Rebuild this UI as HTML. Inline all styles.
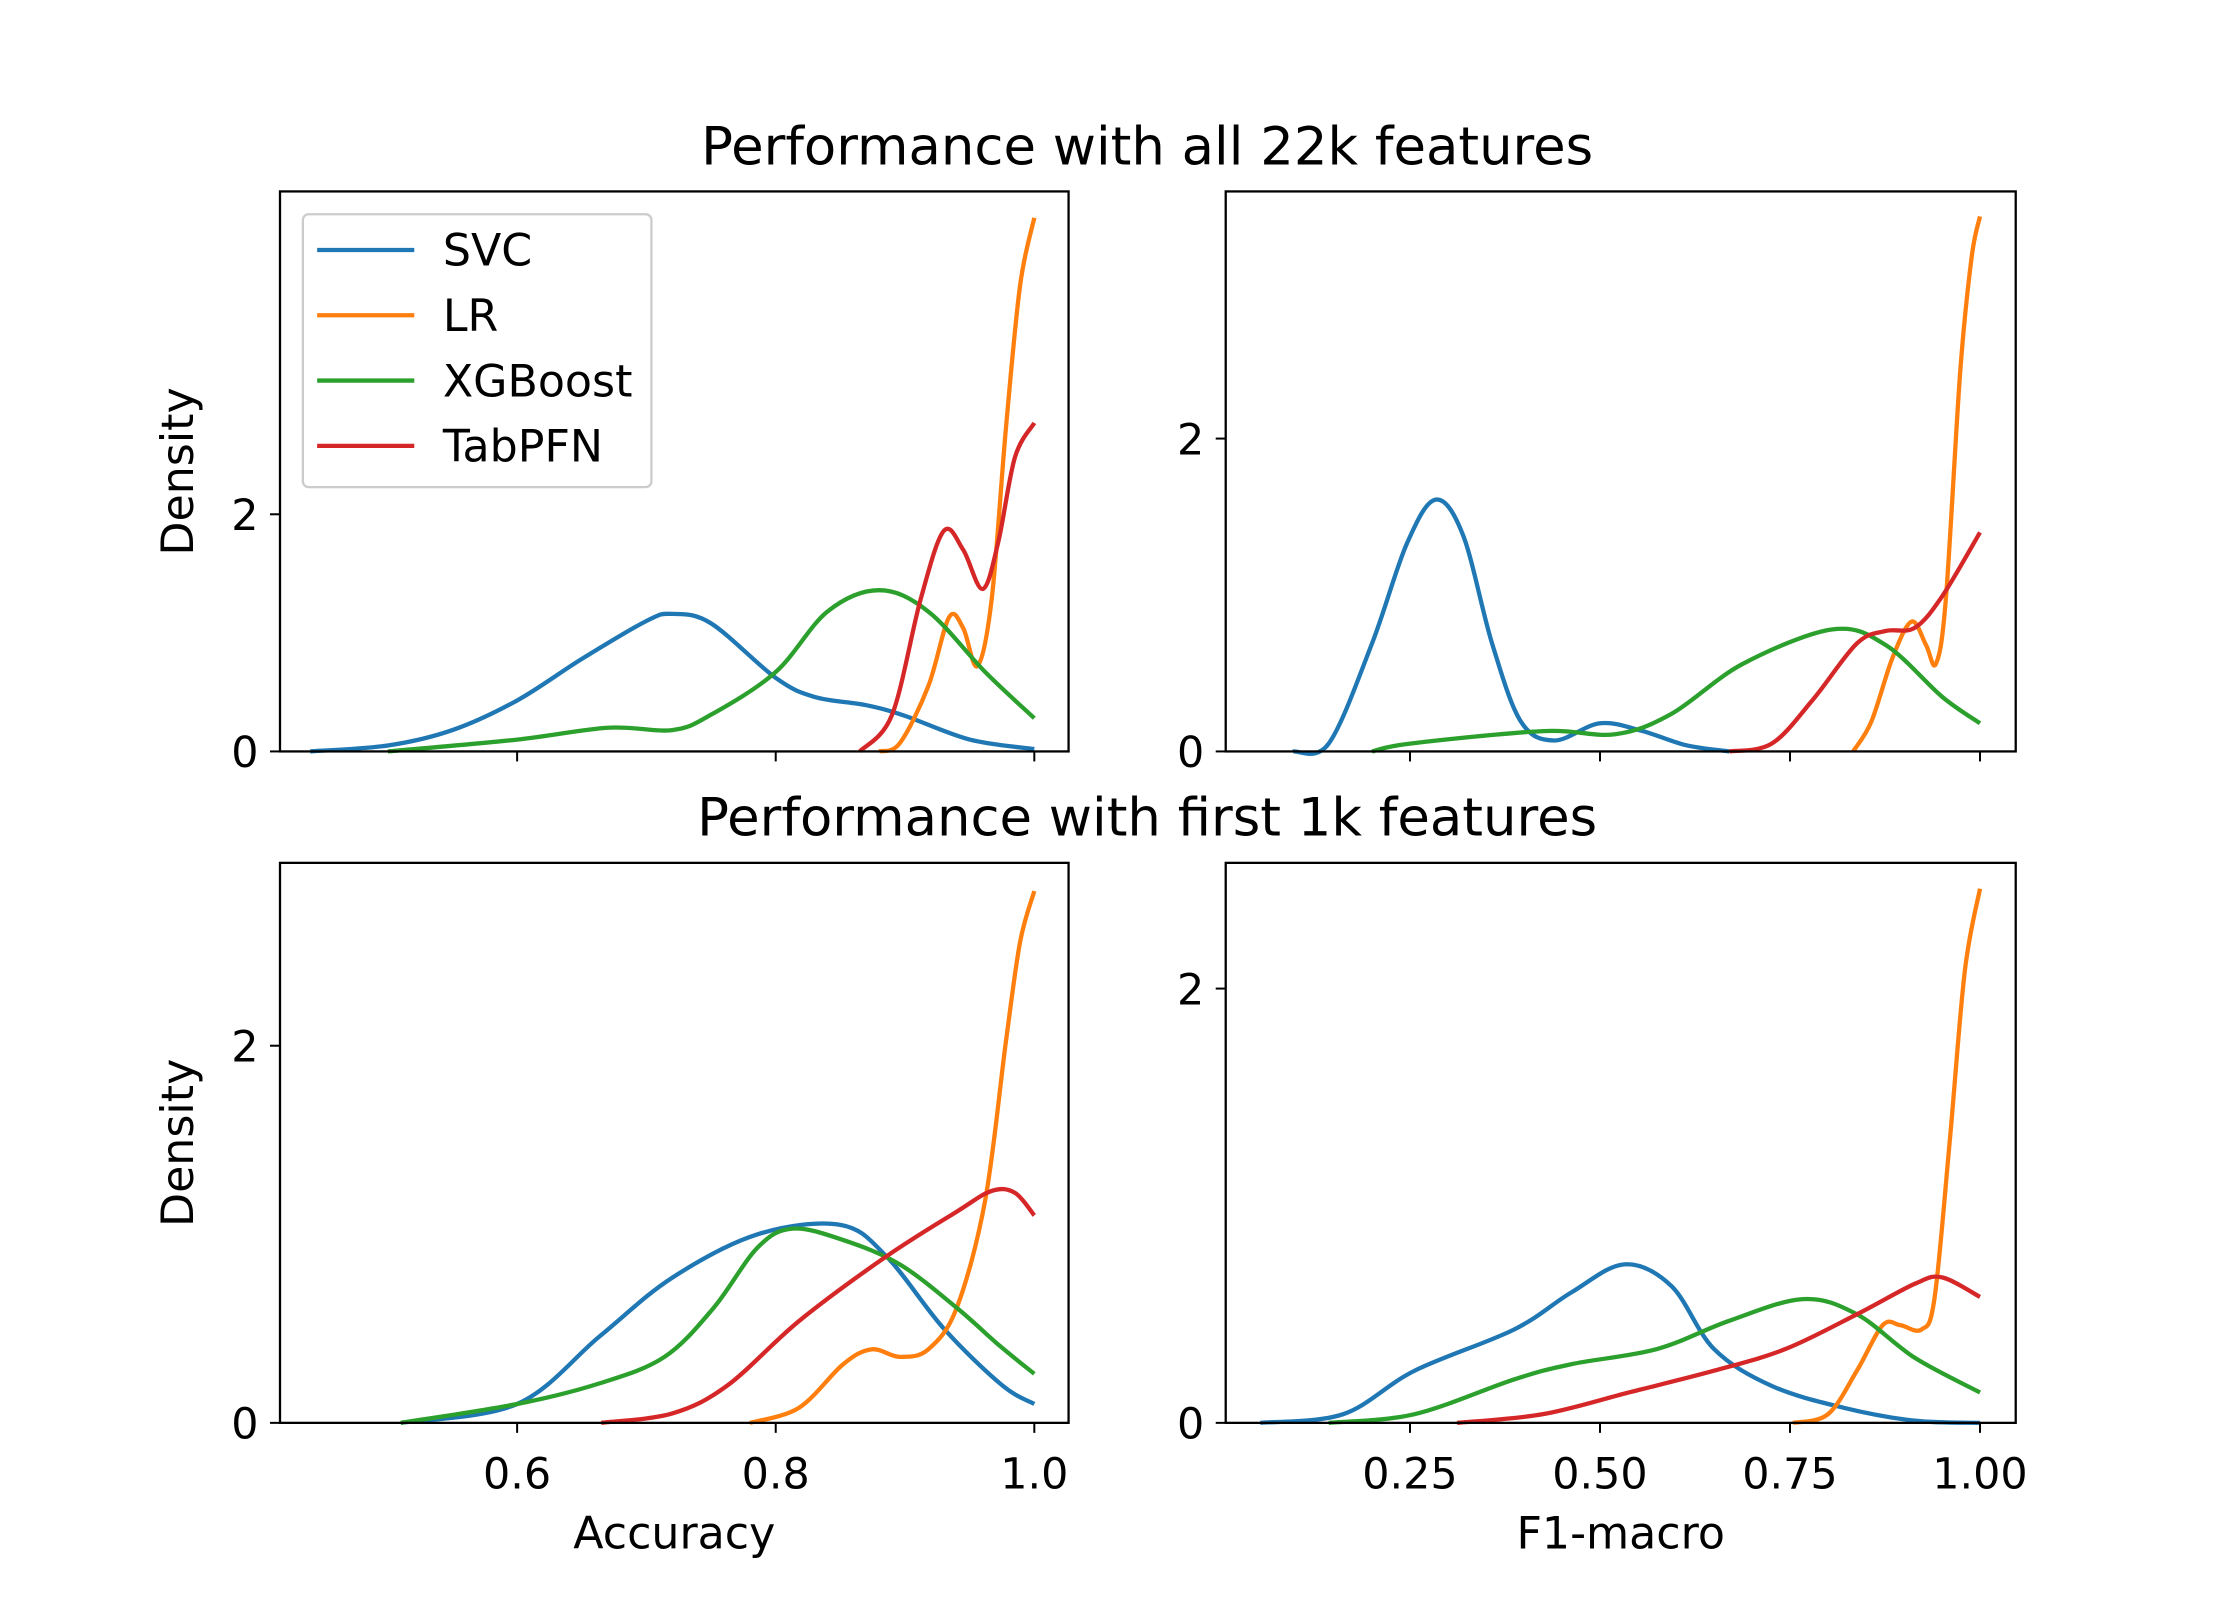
<!DOCTYPE html>
<html><head><meta charset="utf-8"><style>
html,body{margin:0;padding:0;background:#fff}
svg{display:block}
text{font-family:"DejaVu Sans","Liberation Sans",sans-serif;fill:#000}
</style></head><body>
<svg id="chart" width="2240" height="1600" viewBox="0 0 1568 1120" xmlns="http://www.w3.org/2000/svg"></svg>
<script>
// ---- data ----
const colors = {SVC:"#1f77b4", LR:"#ff7f0e", XGBoost:"#2ca02c", TabPFN:"#d62728"};
const seriesNames = ["SVC","LR","XGBoost","TabPFN"];
const accTicks = [0.6, 0.8, 1.0];
const accTickLabels = ["0.6","0.8","1.0"];
const f1Ticks = [0.25, 0.5, 0.75, 1.0];
const f1TickLabels = ["0.25","0.50","0.75","1.00"];
const yTicks = [0, 2];

// top-left: accuracy, all features
const tlSVCx = [0.44,0.5,0.55,0.6,0.65,0.7,0.72,0.75,0.8,0.83,0.87,0.9,0.95,1.0];
const tlSVCy = [0,0.05,0.18,0.43,0.78,1.1,1.16,1.08,0.62,0.46,0.39,0.3,0.1,0.02];
const tlXGBx = [0.5,0.6,0.67,0.72,0.75,0.8,0.84,0.88,0.918,0.962,1.0];
const tlXGBy = [0,0.1,0.2,0.18,0.31,0.67,1.18,1.36,1.18,0.67,0.28];
const tlLRx = [0.88,0.896,0.918,0.934,0.945,0.956,0.967,0.978,0.989,1.0];
const tlLRy = [0,0.07,0.55,1.13,1.04,0.72,1.28,2.72,3.93,4.5];
const tlTabx = [0.865,0.89,0.912,0.93,0.945,0.96,0.972,0.985,1.0];
const tlTaby = [0,0.31,1.28,1.86,1.7,1.37,1.76,2.48,2.77];

// top-right: F1, all features
const trSVCx = [0.096,0.143,0.2,0.246,0.284,0.32,0.358,0.396,0.44,0.5,0.556,0.613,0.67];
const trSVCy = [0,0.05,0.69,1.33,1.61,1.38,0.69,0.19,0.07,0.18,0.13,0.04,0];
const trXGBx = [0.2,0.25,0.425,0.52,0.594,0.688,0.806,0.876,0.95,1.0];
const trXGBy = [0,0.05,0.13,0.11,0.24,0.56,0.78,0.68,0.35,0.18];
const trLRx = [0.833,0.857,0.885,0.91,0.929,0.942,0.955,0.974,0.989,1.0];
const trLRy = [0,0.19,0.6,0.83,0.68,0.56,0.97,2.43,3.16,3.42];
const trTabx = [0.67,0.726,0.78,0.838,0.876,0.914,0.95,1.0];
const trTaby = [0,0.05,0.33,0.69,0.77,0.79,0.99,1.4];

// bottom-left: accuracy, first 1k
const blSVCx = [0.51,0.6,0.664,0.72,0.786,0.85,0.886,0.93,0.975,1.0];
const blSVCy = [0,0.1,0.46,0.77,1.0,1.05,0.88,0.5,0.2,0.1];
const blXGBx = [0.51,0.6,0.664,0.714,0.752,0.786,0.813,0.852,0.896,0.94,0.973,1.0];
const blXGBy = [0,0.1,0.21,0.35,0.61,0.93,1.03,0.97,0.84,0.61,0.41,0.26];
const blLRx = [0.78,0.818,0.852,0.874,0.896,0.918,0.94,0.962,0.978,0.989,1.0];
const blLRy = [0,0.08,0.31,0.39,0.35,0.39,0.61,1.18,2.02,2.55,2.82];
const blTabx = [0.665,0.72,0.763,0.818,0.885,0.94,0.967,0.985,1.0];
const blTaby = [0,0.05,0.2,0.54,0.88,1.12,1.23,1.22,1.1];

// bottom-right: F1, first 1k
const brSVCx = [0.053,0.162,0.256,0.387,0.462,0.532,0.594,0.65,0.726,0.82,0.914,1.0];
const brSVCy = [0,0.04,0.24,0.43,0.6,0.73,0.63,0.34,0.17,0.07,0.01,0];
const brXGBx = [0.143,0.256,0.387,0.462,0.575,0.67,0.767,0.838,0.914,1.0];
const brXGBy = [0,0.04,0.2,0.27,0.34,0.47,0.57,0.5,0.3,0.14];
const brLRx = [0.754,0.8,0.838,0.872,0.895,0.923,0.94,0.96,0.98,1.0];
const brLRy = [0,0.04,0.24,0.45,0.45,0.43,0.57,1.29,2.08,2.46];
const brTabx = [0.312,0.425,0.538,0.65,0.744,0.838,0.914,0.95,1.0];
const brTaby = [0,0.04,0.14,0.24,0.34,0.5,0.64,0.67,0.58];

// ---- drawing ----
const NS = "http://www.w3.org/2000/svg";
const svg = document.getElementById("chart");
function mk(tag, attrs, parent){
  const e = document.createElementNS(NS, tag);
  for (const k in attrs) e.setAttribute(k, attrs[k]);
  (parent||svg).appendChild(e);
  return e;
}
function txt(s, x, y, size, anchor, parent, rot){
  const t = mk("text", {x:x, y:y, "font-size":size, "text-anchor":anchor||"middle"}, parent);
  if (rot) t.setAttribute("transform", `rotate(${rot} ${x} ${y})`);
  t.textContent = s;
  return t;
}
function smoothPath(pts){
  let d = `M${pts[0][0]},${pts[0][1]}`;
  for (let i=0;i<pts.length-1;i++){
    const p0 = pts[i-1]||pts[i], p1=pts[i], p2=pts[i+1], p3=pts[i+2]||p2;
    const c1x = p1[0]+(p2[0]-p0[0])/6, c1y = p1[1]+(p2[1]-p0[1])/6;
    const c2x = p2[0]-(p3[0]-p1[0])/6, c2y = p2[1]-(p3[1]-p1[1])/6;
    d += ` C${c1x},${c1y} ${c2x},${c2y} ${p2[0]},${p2[1]}`;
  }
  return d;
}
function panel(cfg){
  const g = mk("g", {});
  
  
  const sx = v => cfg.x0 + (v - cfg.xmin) / (cfg.xmax - cfg.xmin) * (cfg.x1 - cfg.x0);
  const sy = v => cfg.y1 - v * cfg.ypx;
  cfg.series.forEach(s => {
    const pts = s.x.map((xv,i)=>[sx(xv), sy(s.y[i])]);
    const p = mk("path", {d:smoothPath(pts), fill:"none", stroke:colors[s.n], "stroke-width":3, "stroke-linejoin":"round"}, g);
    
    
  });
  const fr = mk("rect", {x:cfg.x0, y:cfg.y0, width:cfg.x1-cfg.x0, height:cfg.y1-cfg.y0, fill:"none", stroke:"#000", "stroke-width":1.6}, g);
  
  
  cfg.xt.forEach((v,i)=>{
    const x = sx(v);
    mk("line", {x1:x, x2:x, y1:cfg.y1, y2:cfg.y1+7, stroke:"#000", "stroke-width":1.4}, g);
    if (cfg.xl){
      const t = txt(cfg.xl[i], x, cfg.y1+46, 30, "middle", g);
      
      
    }
  });
  yTicks.forEach(v=>{
    const y = sy(v);
    mk("line", {x1:cfg.x0-7, x2:cfg.x0, y1:y, y2:y, stroke:"#000", "stroke-width":1.4}, g);
    const t = txt(String(v), cfg.x0-15, y+11, 30, "end", g);
    
    
  });
  if (cfg.ylabel){
    const t = txt("Density", cfg.x0-61, (cfg.y0+cfg.y1)/2, 31, "middle", g, -90);
    
    
  }
  if (cfg.xlabel){
    const t = txt(cfg.xlabel, (cfg.x0+cfg.x1)/2, cfg.y1+88, 31, "middle", g);
    
    
  }
}
const accMin = 0.4166, accMax = 1.0265;
const f1Min = 1 - (1386-858)/532, f1Max = 1 + (1411-1386)/532;
function S(n,x,y){return {n:n,x:x,y:y};}
panel({name:"panel-accuracy-all-features", x0:196,x1:748,y0:134,y1:526,xmin:accMin,xmax:accMax,ypx:83,xt:accTicks,xl:null,ylabel:true,
  series:[S("SVC",tlSVCx,tlSVCy),S("LR",tlLRx,tlLRy),S("XGBoost",tlXGBx,tlXGBy),S("TabPFN",tlTabx,tlTaby)]});
panel({name:"panel-f1-all-features", x0:858,x1:1411,y0:134,y1:526,xmin:f1Min,xmax:f1Max,ypx:109.5,xt:f1Ticks,xl:null,
  series:[S("SVC",trSVCx,trSVCy),S("LR",trLRx,trLRy),S("XGBoost",trXGBx,trXGBy),S("TabPFN",trTabx,trTaby)]});
panel({name:"panel-accuracy-1k-features", x0:196,x1:748,y0:604,y1:996,xmin:accMin,xmax:accMax,ypx:132,xt:accTicks,xl:accTickLabels,ylabel:true,xlabel:"Accuracy",
  series:[S("SVC",blSVCx,blSVCy),S("LR",blLRx,blLRy),S("XGBoost",blXGBx,blXGBy),S("TabPFN",blTabx,blTaby)]});
panel({name:"panel-f1-1k-features", x0:858,x1:1411,y0:604,y1:996,xmin:f1Min,xmax:f1Max,ypx:152,xt:f1Ticks,xl:f1TickLabels,xlabel:"F1-macro",
  series:[S("SVC",brSVCx,brSVCy),S("LR",brLRx,brLRy),S("XGBoost",brXGBx,brXGBy),S("TabPFN",brTabx,brTaby)]});

let t1 = txt("Performance with all 22k features", 803, 115, 37);


let t2 = txt("Performance with first 1k features", 803, 585, 37);



const lg = mk("g", {});


mk("rect", {x:212, y:150, width:244, height:191, rx:4, fill:"#fff", "fill-opacity":0.8, stroke:"#ccc", "stroke-width":1.6}, lg);
seriesNames.forEach((n,i)=>{
  const y = 175 + i*45.7;
  const e = mk("g", {}, lg);
  
  
  mk("line", {x1:222, x2:290, y1:y, y2:y, stroke:colors[n], "stroke-width":3}, e);
  txt(n, 310, y+11, 31, "start", e);
});
</script>
</body></html>
